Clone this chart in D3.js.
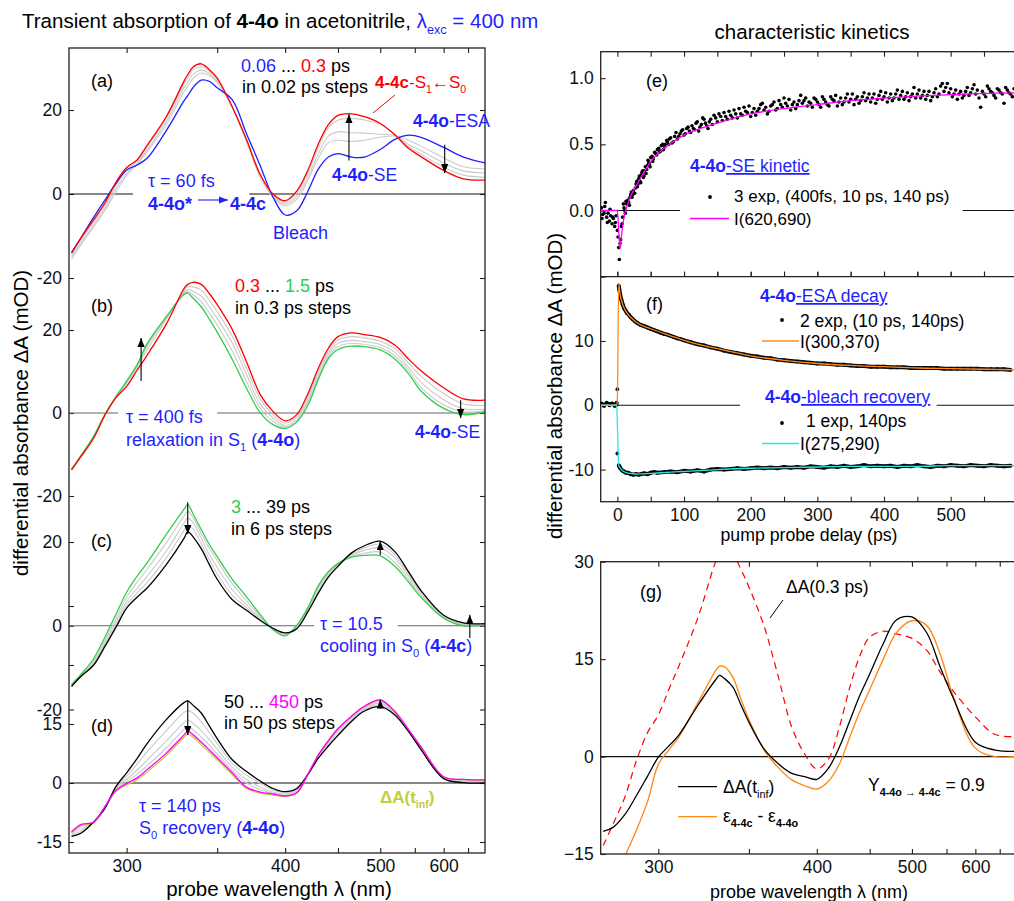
<!DOCTYPE html>
<html><head><meta charset="utf-8">
<script src="https://cdn.jsdelivr.net/npm/d3@7"></script>
<style>
body{margin:0;background:#fff;}
svg{font-family:"Liberation Sans",Arial,Helvetica,sans-serif;}
</style></head><body>
<svg id="c" width="1014" height="901"></svg>
<script>
// ---------------- DATA ----------------
// probe wavelengths (nm) shared by all spectra
const wl = [276, 280, 285, 290, 295, 300, 305, 310, 320, 330, 332, 335, 340, 345, 350, 360, 370, 380, 390, 400, 410, 420, 430, 440, 450, 465, 480, 500, 520, 540, 560, 600, 640, 690];
// (a) 0.06 ... 0.3 ps
const aBlue = [-14, -10.3, -5.7, -1.5, 2.5, 5.7, 6.9, 8.5, 15.1, 22.3, 23.4, 25.3, 27.1, 26.8, 25.3, 22.4, 14.3, 6.8, -0.7, -5, -4, 0.6, 5.9, 8.8, 9.6, 8.8, 8.8, 10.6, 13, 14, 13.5, 11.1, 8.8, 7.4];
const aG3 = [-15.5, -12, -8, -4, 0.5, 4.5, 7, 10, 16.5, 24.5, 25.6, 27.5, 28.8, 28.2, 26.5, 20.8, 12.8, 4.4, -0.8, -2.8, -1.2, 3.2, 8.5, 12.2, 12.8, 12.5, 12.8, 13.5, 13.8, 12.8, 11.4, 8.6, 6.5, 6];
const aG2 = [-15, -11.5, -7.5, -3.5, 1.2, 5, 7.2, 10.5, 17.2, 25.5, 26.6, 28.5, 29.5, 28.7, 26.8, 20.6, 12.4, 4, -0.6, -2.4, -0.5, 4, 9.6, 13.8, 14.8, 14.6, 14.5, 14.2, 13.9, 11.8, 10.3, 7.4, 5.5, 5];
const aG1 = [-14.5, -10.8, -6.8, -2.8, 2, 5.8, 7.8, 11.2, 18, 26.4, 27.6, 29.5, 30.3, 29.2, 27.2, 20.6, 12.5, 4.2, -0.4, -2, 0.2, 5, 11, 15.8, 17.6, 18, 17.6, 16.6, 14.2, 11.3, 9.5, 6.4, 4.5, 4];
const aRed = [-14, -10.3, -6.3, -2.2, 2.8, 6.3, 8.1, 11.6, 18.4, 27, 28.4, 30.2, 31, 29.6, 27.6, 20.7, 12.9, 4.7, 0, -1.6, 0.7, 5.6, 11.9, 16.5, 18.7, 19.1, 18.4, 16.8, 14.1, 10.9, 8.9, 5.6, 3.6, 3.3];
// (b) 0.3 ... 1.5 ps
const bRed = [-13.7, -10.4, -6.2, -0.6, 3.7, 6.4, 10.3, 13.9, 21.4, 30.1, 31, 31.5, 31, 28.8, 26.1, 20.1, 12.3, 4.5, 0.4, -1.9, -0.4, 4.6, 10.8, 15.6, 18.4, 19.3, 18.9, 18.2, 16.4, 13, 10.2, 6.1, 3.4, 3.1];
const bG1 = [-13.7, -10.3, -5.9, -0.5, 3.8, 7.1, 10.9, 15.2, 22.5, 29.6, 30.4, 30.4, 29.6, 27.2, 24.4, 18.5, 10.7, 3.4, -0.4, -2.4, -1, 3.8, 10.1, 14.9, 17.6, 18.4, 18.1, 17.3, 15.5, 12, 8.9, 4.7, 2.2, 1.8];
const bG2 = [-13.6, -10.2, -5.9, -0.5, 3.9, 7.4, 11.3, 16, 22.9, 29.2, 29.8, 29.3, 28.2, 25.6, 22.8, 16.8, 9.2, 2.2, -1.2, -3, -1.6, 3, 9.3, 14.2, 16.8, 17.5, 17.2, 16.5, 14.6, 11, 7.4, 3.2, 1, 0.9];
const bG3 = [-13.6, -10.1, -5.8, -0.4, 3.9, 7.6, 11.5, 16.4, 23.1, 28.9, 29.3, 28.5, 26.9, 24.1, 21.2, 14.9, 7.6, 1.2, -2, -3.4, -2, 2.4, 8.7, 13.6, 16, 16.8, 16.5, 15.8, 13.8, 10.2, 6.2, 2, 0.3, 0.6];
const bGreen = [-13.6, -10.1, -5.8, -0.4, 3.9, 7.7, 11.6, 16.7, 23.2, 28.6, 28.9, 27.7, 25.6, 22.6, 19.5, 12.9, 5.9, 0.1, -2.8, -3.7, -2.2, 1.8, 8.1, 13.1, 15.3, 16.1, 16, 15.2, 13, 9.5, 5.3, 1.1, -0.4, 0.3];
// (c) 3 ... 39 ps
const cGreen = [-14, -11.5, -8, -2.8, 2.7, 8, 11.8, 15, 21.8, 27.9, 29, 26.8, 23, 19.4, 16.5, 11.1, 6.9, 2.7, -0.9, -2.4, 0.1, 4.3, 9.6, 12.9, 14.9, 16.4, 16.8, 16.7, 14.2, 10.5, 6.8, 1.8, 0, 0.2];
const cG1 = [-14.2, -11.7, -8.5, -3.6, 1.7, 6.8, 10.4, 13.5, 19.8, 26.3, 27.3, 25.9, 22, 18.5, 15.6, 10, 6, 2.3, -0.9, -2.2, -0.1, 4.1, 9.2, 12.7, 14.8, 16.6, 17.3, 17.6, 15.1, 11.2, 7.3, 1.9, 0.2, 0.3];
const cG2 = [-14.3, -11.8, -8.9, -4.2, 0.9, 5.8, 8.9, 11.8, 17.8, 24.6, 25.7, 24.7, 20.9, 17, 13.9, 8.6, 5, 1.9, -0.8, -2, -0.3, 3.8, 8.6, 12.2, 14.6, 16.9, 18, 18.6, 16.2, 11.9, 7.7, 2.1, 0.4, 0.4];
const cG3 = [-14.4, -11.9, -9.2, -4.6, 0.2, 5, 7.8, 10.3, 16.2, 22.9, 24.1, 23.2, 19.6, 15.8, 12.4, 7.3, 4.3, 1.6, -0.7, -1.8, -0.5, 3.5, 8.1, 11.9, 14.4, 17.2, 18.6, 19.5, 17, 12.5, 8.1, 2.3, 0.6, 0.5];
const cBlack = [-14.5, -12, -9.5, -5, -0.4, 4.2, 6.8, 9, 14.6, 21, 22.5, 21.3, 18.4, 14.6, 11.1, 6.2, 3.7, 1.3, -0.6, -1.7, -0.7, 3.3, 7.8, 11.6, 14.2, 17.4, 19.1, 20.2, 17.7, 12.9, 8.4, 2.5, 0.7, 0.5];
// (d) 50 ... 450 ps
const dBlack = [-13.6, -12.7, -10, -6.5, -0.9, 2.6, 6.2, 10, 16.1, 20.5, 20.9, 19.8, 17.8, 14.5, 11.3, 5.9, 2.9, 0.5, -1.4, -2.2, -1.4, 2.1, 6.3, 9.4, 12.1, 15.7, 18.3, 19.4, 17.3, 13.1, 8.5, 1.1, 0.1, 0];
const dG1 = [-13.3, -12.2, -10, -6.3, -1.1, 1.7, 4.8, 7.9, 13.3, 18, 18.4, 17.8, 15.6, 12.8, 10, 5, 2, -0.1, -1.8, -2.5, -1.7, 2.1, 6.5, 9.9, 12.5, 16, 18.7, 19.8, 17.6, 13.2, 8.6, 1.2, 0.3, 0.2];
const dG2 = [-13, -11.6, -10, -6.1, -1.3, 0.9, 3.3, 5.8, 10.7, 15.4, 16, 15.2, 13.3, 11, 8.6, 4, 0.9, -1, -2.3, -2.8, -2, 2.1, 6.8, 10.3, 13.1, 16.4, 19, 20.3, 17.9, 13.4, 8.8, 1.3, 0.5, 0.4];
const dG3 = [-12.7, -11, -10, -6, -1.5, 0.4, 2.2, 4.4, 8.9, 13.7, 14.4, 13.6, 11.7, 9.6, 7.4, 3.2, 0, -1.7, -2.6, -3.1, -2.3, 2.2, 7, 10.6, 13.5, 16.8, 19.2, 20.7, 18.1, 13.5, 9, 1.4, 0.7, 0.6];
const dTinf = [-12.6, -10.8, -10.2, -6.3, -2.1, -0.5, 0.8, 2.8, 7, 11.7, 12.5, 11.7, 9.8, 7.8, 5.9, 2.1, -1.4, -2.6, -3.1, -3.4, -2.6, 2.1, 7.1, 10.9, 13.9, 17, 19.4, 21, 18.3, 13.6, 9.1, 1.5, 0.9, 0.8];
const dMag = [-12.4, -10.5, -10, -6.1, -1.9, -0.1, 1.3, 3.4, 7.6, 12.3, 13.2, 12.3, 10.4, 8.4, 6.4, 2.6, -1.1, -2.3, -2.8, -3.3, -2.5, 2.2, 7.1, 10.7, 13.8, 17, 19.5, 21.1, 18.1, 13.6, 9.2, 1.6, 0.9, 0.8];
// (g)
const gBlack = [-11.5, -10.9, -8.9, -6, -3, -0.1, 1.6, 3.3, 7.9, 11.9, 12.5, 12, 10.7, 7.9, 5.3, 1.2, -1.1, -2.6, -3.1, -3.5, -1.8, 1.5, 5.6, 9.5, 12.7, 17.4, 21, 21.5, 19.1, 13.8, 9.2, 2.2, 1, 0.8];
const gOrange = [-24, -19.5, -15.3, -11.3, -6.9, -1.2, 1, 3, 8.3, 13.3, 13.9, 13.8, 12.2, 8.8, 5.7, 1, -1.7, -3.6, -4.5, -5, -3.8, -1.1, 3.1, 7, 10.3, 15, 19, 20.9, 20.2, 15.8, 9.5, 1.3, 0, 0];
const gDash = bRed; // ΔA(0.3 ps)

// (e) SE kinetic, normalised: [delay ps, value]
const eDots = [[-24,0.02],[-22,-0.03],[-20,-0.02],[-18,0.06],[-16,-0.05],[-14,-0.02],[-12,-0.08],[-10,-0.04],[-8,-0.1],[-6,-0.06],[-4,-0.12],[-2,-0.04],[0,-0.15],[1,-0.2],[2,-0.28],[3,-0.37],[4,-0.25],[5,-0.22],[6,-0.12],[8,-0.05],[10,0.02],[12,-0.02],[14,0.05],[16,0.08],[18,0.04],[20,0.12],[22,0.1],[24,0.15],[26,0.13],[28,0.2],[30,0.18],[32,0.24],[34,0.22],[36,0.27],[38,0.3],[40,0.26],[42,0.33],[44,0.31],[46,0.38],[48,0.35],[50,0.4],[53,0.37],[56,0.44],[59,0.42],[62,0.47],[65,0.45],[68,0.5],[71,0.48],[74,0.53],[77,0.5],[80,0.55],[84,0.52],[88,0.59],[92,0.56],[96,0.6],[100,0.57],[104,0.62],[108,0.6],[112,0.64],[116,0.61],[120,0.67],[124,0.63],[128,0.7],[132,0.66],[136,0.62],[140,0.69],[145,0.72],[150,0.67],[155,0.71],[160,0.74],[165,0.69],[170,0.72],[175,0.76],[180,0.7],[185,0.73],[190,0.78],[195,0.74],[200,0.71],[205,0.77],[210,0.75],[215,0.8],[220,0.76],[225,0.73],[230,0.79],[235,0.82],[240,0.77],[245,0.8],[250,0.85],[255,0.79],[260,0.76],[265,0.82],[270,0.8],[275,0.87],[280,0.83],[285,0.79],[290,0.81],[295,0.85],[300,0.82],[305,0.78],[310,0.84],[315,0.8],[320,0.86],[325,0.83],[330,0.79],[335,0.85],[340,0.82],[345,0.88],[350,0.84],[355,0.8],[360,0.86],[365,0.83],[370,0.89],[375,0.85],[380,0.82],[385,0.88],[390,0.84],[395,0.9],[400,0.86],[405,0.82],[410,0.88],[415,0.85],[420,0.91],[425,0.87],[430,0.84],[435,0.89],[440,0.86],[445,0.93],[450,0.88],[455,0.85],[460,0.9],[465,0.87],[470,0.83],[475,0.89],[480,0.86],[485,0.94],[490,0.9],[495,0.96],[500,0.92],[505,0.88],[510,0.84],[515,0.9],[520,0.87],[525,0.93],[530,0.89],[535,0.95],[540,0.91],[545,0.78],[550,0.88],[555,0.94],[560,0.9],[565,0.87],[570,0.92],[575,0.89],[580,0.81],[585,0.91],[590,0.88],[595,0.92]];
const eDots2 = [[-23,-0.06],[-19,0.03],[-15,-0.09],[-11,0.01],[-7,-0.05],[-3,-0.09],[7,-0.1],[9,0.05],[11,0.0],[13,0.07],[17,0.06],[19,0.1],[21,0.14],[23,0.12],[27,0.17],[29,0.22],[31,0.2],[33,0.26],[35,0.21],[37,0.29],[39,0.25],[41,0.3],[43,0.28],[45,0.34],[47,0.36],[49,0.33],[52,0.41],[54,0.39],[57,0.43],[60,0.46],[63,0.44],[66,0.49],[69,0.46],[72,0.5],[75,0.52],[78,0.54],[82,0.51],[86,0.56],[90,0.54],[94,0.58],[98,0.61],[102,0.58],[106,0.63],[110,0.59],[114,0.62],[118,0.66],[122,0.6],[126,0.65],[130,0.69],[134,0.64],[138,0.67],[142.5,0.65],[147.5,0.7],[152.5,0.73],[157.5,0.68],[162.5,0.71],[167.5,0.75],[172.5,0.7],[177.5,0.73],[182.5,0.77],[187.5,0.72],[192.5,0.75],[197.5,0.79],[202.5,0.74],[207.5,0.72],[212.5,0.77],[217.5,0.81],[222.5,0.78],[227.5,0.75],[232.5,0.8],[237.5,0.76],[242.5,0.83],[247.5,0.78],[252.5,0.81],[257.5,0.84],[262.5,0.8],[267.5,0.77],[272.5,0.83],[277.5,0.81],[282.5,0.85],[287.5,0.82],[292.5,0.78],[297.5,0.84],[302.5,0.8],[307.5,0.86],[312.5,0.82],[317.5,0.79],[322.5,0.84],[327.5,0.87],[332.5,0.82],[337.5,0.8],[342.5,0.85],[347.5,0.82],[352.5,0.88],[357.5,0.84],[362.5,0.81],[367.5,0.86],[372.5,0.83],[377.5,0.88],[382.5,0.85],[387.5,0.81],[392.5,0.87],[397.5,0.84],[402.5,0.89],[407.5,0.85],[412.5,0.83],[417.5,0.88],[422.5,0.84],[427.5,0.9],[432.5,0.86],[437.5,0.83],[442.5,0.88],[447.5,0.85],[452.5,0.91],[457.5,0.87],[462.5,0.84],[467.5,0.9],[472.5,0.86],[477.5,0.92],[482.5,0.88],[487.5,0.96],[492.5,0.93],[497.5,0.89],[502.5,0.86],[507.5,0.91],[512.5,0.88],[517.5,0.85],[522.5,0.9],[527.5,0.87],[532.5,0.92],[537.5,0.88],[542.5,0.85],[547.5,0.9],[552.5,0.86],[557.5,0.92],[562.5,0.89],[567.5,0.85],[572.5,0.91],[577.5,0.88],[582.5,0.93],[587.5,0.89],[592.5,0.86]];
const eFitT = [-25, 0, 2, 4, 6, 10, 15, 20, 30, 40, 50, 70, 100, 150, 200, 250, 300, 350, 400, 450, 500, 550, 610];
const eFitV = [0, 0, -0.15, -0.29, -0.2, -0.05, 0.04, 0.11, 0.2, 0.29, 0.37, 0.47, 0.57, 0.66, 0.73, 0.77, 0.8, 0.83, 0.85, 0.865, 0.875, 0.885, 0.89];
// (f) ESA decay and bleach recovery (mOD)
const fEsaDots = [[-24,0.3],[-20,0.1],[-16,0.4],[-12,0.2],[-8,0.3],[-4,0.1],[-1,0.4],[0,2.5],[2,18.6],[3,18],[4,17.3],[6,16.4],[8,15.7],[10,15.1],[12,14.8],[14,14.4],[17,14.1],[20,13.7],[23,13.4],[26,13.1],[30,12.8],[35,12.5],[40,12.3],[45,12.1],[50,11.9],[55,11.7],[60,11.5],[65,11.3],[70,11.1],[75,11],[80,10.8],[85,10.6],[90,10.4],[95,10.3],[100,10.1],[110,9.8],[120,9.5],[130,9.3],[140,9.0],[150,8.8],[160,8.5],[170,8.3],[180,8.1],[190,7.9],[200,7.7],[210,7.6],[220,7.4],[230,7.3],[240,7.1],[250,7],[260,6.9],[270,6.8],[280,6.7],[290,6.6],[300,6.5],[310,6.5],[320,6.4],[330,6.3],[340,6.3],[350,6.2],[360,6.1],[370,6.1],[380,6.0],[390,6.0],[400,6.0],[410,5.9],[420,5.9],[430,5.9],[440,5.8],[450,5.8],[460,5.8],[470,5.8],[480,5.8],[490,5.7],[500,5.7],[510,5.7],[520,5.7],[530,5.7],[540,5.7],[550,5.6],[560,5.6],[570,5.6],[580,5.6],[590,5.5]];
const fBlDots = [[-24,0.2],[-20,-0.1],[-16,0.3],[-12,0],[-8,0.2],[-4,-0.1],[-1,0.1],[0,-7.5],[2,-9.3],[3,-9.5],[4,-9.7],[6,-10],[8,-10.2],[10,-10.3],[13,-10.5],[16,-10.5],[20,-10.7],[24,-10.8],[28,-10.7],[32,-10.8],[36,-10.7],[40,-10.6],[45,-10.7],[50,-10.5],[55,-10.4],[60,-10.5],[70,-10.4],[80,-10.3],[90,-10.4],[100,-10.2],[110,-10.3],[120,-10.1],[130,-10.3],[140,-10],[150,-9.9],[160,-10],[170,-9.9],[180,-9.8],[190,-9.9],[200,-9.8],[210,-9.7],[220,-9.8],[230,-9.7],[240,-9.8],[250,-9.6],[260,-9.7],[270,-9.6],[280,-9.7],[290,-9.5],[300,-9.6],[310,-9.7],[320,-9.5],[330,-9.6],[340,-9.4],[350,-9.6],[360,-9.5],[370,-9.3],[380,-9.5],[390,-9.4],[400,-9.5],[410,-9.4],[420,-9.6],[430,-9.4],[440,-9.5],[450,-9.3],[460,-9.5],[470,-9.6],[480,-9.4],[490,-9.5],[500,-9.3],[510,-9.4],[520,-9.5],[530,-9.3],[540,-9.4],[550,-9.5],[560,-9.3],[570,-9.4],[580,-9.5],[590,-9.4]];
const fFitT = [-25, -1, 0, 2, 4, 8, 14, 20, 30, 50, 80, 100, 150, 200, 250, 300, 350, 400, 450, 500, 550, 610];
const fFitEsa = [0, 0, 1, 19, 17.3, 15.7, 14.4, 13.7, 12.8, 11.9, 10.8, 10.1, 8.8, 7.7, 7.0, 6.5, 6.2, 6.0, 5.8, 5.7, 5.6, 5.5];
const fFitBl = [0, 0, -3, -9.3, -9.7, -10.2, -10.5, -10.6, -10.7, -10.6, -10.4, -10.3, -10.0, -9.8, -9.7, -9.6, -9.5, -9.5, -9.5, -9.4, -9.4, -9.4];

// tick values
const wlTicks = [300, 350, 400, 450, 500, 550, 600, 650];
const wlLabels = [300, 400, 500, 600];
const tTicks = [0, 50, 100, 150, 200, 250, 300, 350, 400, 450, 500, 550];
const tLabels = [0, 100, 200, 300, 400, 500];

// ---------------- DRAWING ----------------
const svg = d3.select("#c");
const BLUE = "#1f1fff", RED = "#ff0000", GREEN = "#33cc4f", GRAY = "#cbcbcb", MAG = "#ff00ff",
      TINF = "#c3cd3c", ORANGE = "#ff8a1a", CYAN = "#22e8e8", AX = "#222";
const FS = 18, FT = 17.5, FTT = 20.5;

const defs = svg.append("defs");
function marker(id, col) {
  defs.append("marker").attr("id", id).attr("viewBox", "0 0 10 8").attr("refX", 10).attr("refY", 4)
    .attr("markerWidth", 9).attr("markerHeight", 7.2).attr("markerUnits", "userSpaceOnUse").attr("orient", "auto")
    .append("path").attr("d", "M0,0L10,4L0,8Z").attr("fill", col);
}
marker("arK", "#000"); marker("arB", BLUE);
function clip(id, x, y, w, h) {
  defs.append("clipPath").attr("id", id).append("rect").attr("x", x).attr("y", y).attr("width", w).attr("height", h);
}

function rt(x, y, parts, o = {}) {
  const fs = o.size || FS;
  const t = svg.append("text").attr("x", x).attr("y", y).attr("font-size", fs).attr("fill", o.color || "#000");
  if (o.anchor) t.attr("text-anchor", o.anchor);
  if (o.rotate) t.attr("transform", `rotate(${o.rotate},${x},${y})`);
  let shift = 0;
  parts.forEach(p => {
    if (typeof p === "string") p = { t: p };
    const s = t.append("tspan").text(p.t);
    const target = p.sub ? fs * 0.3 : 0;
    if (target !== shift) { s.attr("dy", target - shift); shift = target; }
    if (p.c) s.attr("fill", p.c);
    if (p.b) s.attr("font-weight", "bold");
    if (p.sub) s.attr("font-size", fs * 0.62);
    if (p.u) s.attr("text-decoration", "underline");
  });
  return t;
}
function styleAxis(g) {
  g.select(".domain").remove();
  g.selectAll("line").attr("stroke", AX).attr("stroke-width", 1.1);
  g.selectAll("text").attr("font-size", FT).attr("fill", "#111")
    .attr("font-family", '"Liberation Sans",Arial,sans-serif');
}

// ===== left column =====
const L = { x0: 69, x1: 485, y0: 48, y1: 853 };
const xW = d3.scalePow().exponent(-1).domain([275, 690]).range([L.x0, L.x1]);
const yA = d3.scaleLinear().domain([-20, 20]).range([278, 110]);
const yB = d3.scaleLinear().domain([-20, 20]).range([496, 330]);
const yC = d3.scaleLinear().domain([-20, 20]).range([709.5, 542]);
const yD = d3.scaleLinear().domain([-15, 15]).range([842, 724]);
clip("clipL", L.x0, L.y0, L.x1 - L.x0, L.y1 - L.y0);

const panels = [
  { y: yA, ticks: [-20, 0, 20], labels: [-20, 0, 20], zero: [[275, 303], [372, 690]], zc: "#111",
    series: [[aG3, GRAY], [aG2, GRAY], [aG1, GRAY], [aBlue, BLUE], [aRed, RED]],
    arrows: [[462, 8, 19], [602, 11.7, 5]] },
  { y: yB, ticks: [-20, 0, 20], labels: [-20, 0, 20], zero: [[275, 296], [350, 690]], zc: "#666",
    series: [[bG1, GRAY], [bG2, GRAY], [bG3, GRAY], [bGreen, GREEN], [bRed, RED]],
    arrows: [[307, 7.7, 18.1], [634, 3.1, -1.2]] },
  { y: yC, ticks: [-20, 0, 20], labels: [-20, 0, 20], zero: [[275, 426], [524, 690]], zc: "#666",
    series: [[cG1, GRAY], [cG2, GRAY], [cG3, GRAY], [cGreen, GREEN], [cBlack, "#000"]],
    arrows: [[332, 29.5, 21.9], [500, 16.9, 20.2], [654, -2.9, 2.6]] },
  { y: yD, ticks: [-15, 0, 15, 30, 45], labels: [-15, 0, 15], zero: [[275, 690]], zc: "#111",
    series: [[dG1, GRAY], [dG2, GRAY], [dG3, GRAY], [dTinf, TINF], [dBlack, "#000"], [dMag, MAG]],
    arrows: [[332, 21.1, 12.2], [500, 18.9, 21.2]] }
];

const gL = svg.append("g");
panels.forEach(p => {
  const la = gL.append("g").attr("transform", `translate(${L.x0},0)`)
    .call(d3.axisLeft(p.y).tickValues(p.ticks).tickSize(-5).tickPadding(7)
      .tickFormat(d => p.labels.includes(d) ? d : ""));
  styleAxis(la);
  const ra = gL.append("g").attr("transform", `translate(${L.x1},0)`)
    .call(d3.axisRight(p.y).tickValues(p.ticks).tickSize(-5).tickFormat(""));
  styleAxis(ra);
  p.zero.forEach(z => gL.append("line").attr("x1", xW(z[0])).attr("x2", xW(z[1]))
    .attr("y1", p.y(0)).attr("y2", p.y(0)).attr("stroke", p.zc).attr("stroke-width", 1.2));
  const line = d3.line().x((d, i) => xW(wl[i])).y(d => p.y(d)).curve(d3.curveCatmullRom.alpha(0.5));
  const cg = gL.append("g").attr("clip-path", "url(#clipL)");
  p.series.forEach(s => cg.append("path").attr("d", line(s[0])).attr("fill", "none")
    .attr("stroke", s[1]).attr("stroke-width", s[1] === GRAY ? 1.1 : 1.3));
  p.arrows.forEach(a => gL.append("line").attr("x1", xW(a[0])).attr("x2", xW(a[0]))
    .attr("y1", p.y(a[1])).attr("y2", p.y(a[2])).attr("stroke", "#000").attr("stroke-width", 1.1)
    .attr("marker-end", "url(#arK)"));
});
const bx = gL.append("g").attr("transform", `translate(0,${L.y1})`)
  .call(d3.axisBottom(xW).tickValues(wlTicks).tickSize(-5).tickPadding(7)
    .tickFormat(d => wlLabels.includes(d) ? d : ""));
styleAxis(bx);
const tx = gL.append("g").attr("transform", `translate(0,${L.y0})`)
  .call(d3.axisTop(xW).tickValues(wlTicks).tickSize(-5).tickFormat(""));
styleAxis(tx);
gL.append("rect").attr("x", L.x0).attr("y", L.y0).attr("width", L.x1 - L.x0).attr("height", L.y1 - L.y0)
  .attr("fill", "none").attr("stroke", AX).attr("stroke-width", 1.3);

// titles left
rt(22, 28, ["Transient absorption of ", { t: "4-4o", b: 1 }, " in acetonitrile, ",
  { t: "λ", c: BLUE }, { t: "exc", c: BLUE, sub: 1 }, { t: " = 400 nm", c: BLUE }], { size: FTT });
rt(28, 423, ["differential absorbance ΔA (mOD)"], { size: FTT, anchor: "middle", rotate: -90 });
rt(279, 896, ["probe wavelength λ (nm)"], { size: FTT, anchor: "middle" });

// panel (a) annotations
rt(91, 87, ["(a)"]);
rt(241, 72, [{ t: "0.06", c: BLUE }, " ... ", { t: "0.3", c: RED }, " ps"]);
rt(242, 93, ["in 0.02 ps steps"]);
rt(375, 88, [{ t: "4-4c", b: 1 }, "-S", { t: "1", sub: 1 }, "←S", { t: "0", sub: 1 }], { color: RED, size: 17 });
svg.append("line").attr("x1", 395).attr("y1", 95).attr("x2", 373).attr("y2", 113).attr("stroke", RED).attr("stroke-width", 1);
rt(413, 127, [{ t: "4-4o", b: 1 }, "-ESA"], { color: BLUE, size: 17.5 });
rt(332, 181, [{ t: "4-4o", b: 1 }, "-SE"], { color: BLUE, size: 17.5 });
rt(148, 187, ["τ = 60 fs"], { color: BLUE });
rt(148, 210, [{ t: "4-4o*", b: 1 }], { color: BLUE });
svg.append("line").attr("x1", 198).attr("x2", 228).attr("y1", 200).attr("y2", 200).attr("stroke", BLUE)
  .attr("stroke-width", 1.1).attr("marker-end", "url(#arB)");
rt(230, 210, [{ t: "4-4c", b: 1 }], { color: BLUE });
rt(273, 239, ["Bleach"], { color: BLUE });
// (b)
rt(91, 312, ["(b)"]);
rt(235, 292, [{ t: "0.3", c: RED }, " ... ", { t: "1.5", c: GREEN }, " ps"]);
rt(235, 314, ["in 0.3 ps steps"]);
rt(126, 423, ["τ = 400 fs"], { color: BLUE });
rt(126, 446, ["relaxation in S", { t: "1", sub: 1 }, " (", { t: "4-4o", b: 1 }, ")"], { color: BLUE });
rt(415, 438, [{ t: "4-4o", b: 1 }, "-SE"], { color: BLUE, size: 17.5 });
// (c)
rt(91, 547, ["(c)"]);
rt(231, 513, [{ t: "3", c: GREEN }, " ... 39 ps"]);
rt(231, 535, ["in 6 ps steps"]);
rt(320, 630, ["τ = 10.5"], { color: BLUE });
rt(320, 652, ["cooling in S", { t: "0", sub: 1 }, " (", { t: "4-4c", b: 1 }, ")"], { color: BLUE });
// (d)
rt(91, 732, ["(d)"]);
rt(224, 708, ["50 ... ", { t: "450", c: MAG }, " ps"]);
rt(224, 729, ["in 50 ps steps"]);
rt(139, 812, ["τ = 140 ps"], { color: BLUE });
rt(139, 834, ["S", { t: "0", sub: 1 }, " recovery (", { t: "4-4o", b: 1 }, ")"], { color: BLUE });
rt(380, 803, [{ t: "ΔA(t", b: 1 }, { t: "inf", sub: 1, b: 1 }, { t: ")", b: 1 }], { color: TINF, size: 17 });

// ===== right column: (e) and (f) =====
const R = { x0: 600.7, x1: 1024, yE0: 51.7, yE1: 276.7, yF1: 501.7 };
const xT = d3.scaleLinear().domain([-25, 610]).range([R.x0, R.x1]);
const yE = d3.scaleLinear().domain([-0.5, 1.2]).range([R.yE1, R.yE0]);
const yF = d3.scaleLinear().domain([-15, 20]).range([R.yF1, R.yE1]);
clip("clipE", R.x0, R.yE0, R.x1 - R.x0, R.yE1 - R.yE0);
clip("clipF", R.x0, R.yE1, R.x1 - R.x0, R.yF1 - R.yE1);
const gR = svg.append("g");

rt(812, 39, ["characteristic kinetics"], { size: FTT, anchor: "middle" });
[[yE, [-0.5, 0, 0.5, 1.0], d3.format(".1f"), [0, 0.5, 1.0]], [yF, [-10, 0, 10], d => d, [-10, 0, 10]]].forEach(a => {
  const g = gR.append("g").attr("transform", `translate(${R.x0},0)`)
    .call(d3.axisLeft(a[0]).tickValues(a[1]).tickSize(-5).tickPadding(7)
      .tickFormat(d => a[3].includes(d) ? a[2](d) : ""));
  styleAxis(g);
});
[R.yE0, R.yE1].forEach((yy, i) => {
  const g = gR.append("g").attr("transform", `translate(0,${yy})`)
    .call(d3.axisTop(xT).tickValues(tTicks).tickSize(i === 0 ? -5 : 5).tickFormat(""));
  styleAxis(g);
});
{
  const g = gR.append("g").attr("transform", `translate(0,${R.yE1})`)
    .call(d3.axisBottom(xT).tickValues(tTicks).tickSize(-5).tickFormat(""));
  styleAxis(g);
  const g2 = gR.append("g").attr("transform", `translate(0,${R.yF1})`)
    .call(d3.axisBottom(xT).tickValues(tTicks).tickSize(-5).tickPadding(7)
      .tickFormat(d => tLabels.includes(d) ? d : ""));
  styleAxis(g2);
}
gR.append("rect").attr("x", R.x0).attr("y", R.yE0).attr("width", R.x1 - R.x0).attr("height", R.yF1 - R.yE0)
  .attr("fill", "none").attr("stroke", AX).attr("stroke-width", 1.3);
gR.append("line").attr("x1", R.x0).attr("x2", R.x1).attr("y1", R.yE1).attr("y2", R.yE1).attr("stroke", AX).attr("stroke-width", 1.3);

[[-25, 94], [518, 610]].forEach(z => gR.append("line").attr("x1", xT(z[0])).attr("x2", xT(z[1]))
  .attr("y1", yE(0)).attr("y2", yE(0)).attr("stroke", "#111").attr("stroke-width", 1.2));
[[-25, 184], [479, 610]].forEach(z => gR.append("line").attr("x1", xT(z[0])).attr("x2", xT(z[1]))
  .attr("y1", yF(0)).attr("y2", yF(0)).attr("stroke", "#111").attr("stroke-width", 1.2));

// (e) data
const gE = gR.append("g").attr("clip-path", "url(#clipE)");
gE.selectAll("circle").data(eDots.concat(eDots2)).join("circle").attr("cx", d => xT(d[0])).attr("cy", d => yE(d[1]))
  .attr("r", 1.8).attr("fill", "#000");
gE.append("path").attr("d", d3.line().x((d, i) => xT(eFitT[i])).y(d => yE(d)).curve(d3.curveMonotoneX)(eFitV))
  .attr("fill", "none").attr("stroke", MAG).attr("stroke-width", 1.3);
// (f) data
const gF = gR.append("g").attr("clip-path", "url(#clipF)");
const dotLine = d3.line().x(d => xT(d[0])).y(d => yF(d[1]));
[fEsaDots, fBlDots].forEach(ds => {
  gF.append("path").attr("d", dotLine(ds.filter(d => d[0] > 1))).attr("fill", "none")
    .attr("stroke", "#111").attr("stroke-width", 4);
  gF.append("path").attr("d", dotLine(ds.filter(d => d[0] < 0))).attr("fill", "none")
    .attr("stroke", "#111").attr("stroke-width", 3);
  gF.append("g").selectAll("circle").data(ds).join("circle").attr("cx", d => xT(d[0])).attr("cy", d => yF(d[1]))
    .attr("r", 1.9).attr("fill", "#000");
});
const fitLine = d3.line().x((d, i) => xT(fFitT[i])).y(d => yF(d)).curve(d3.curveMonotoneX);
gF.append("path").attr("d", fitLine(fFitEsa)).attr("fill", "none").attr("stroke", ORANGE).attr("stroke-width", 1.3);
gF.append("path").attr("d", fitLine(fFitBl)).attr("fill", "none").attr("stroke", CYAN).attr("stroke-width", 1.3);

rt(562, 386, ["differential absorbance ΔA (mOD)"], { size: FTT, anchor: "middle", rotate: -90 });
rt(809, 541, ["pump probe delay (ps)"], { size: 17.7, anchor: "middle" });

// (e) legend & labels
rt(646, 87, ["(e)"]);
rt(690, 172, [{ t: "4-4o", b: 1 }, { t: "-SE kinetic", u: 1 }], { color: BLUE, size: 17.5 });
svg.append("circle").attr("cx", 710).attr("cy", 197).attr("r", 1.9).attr("fill", "#000");
rt(734, 202, ["3 exp, (400fs, 10 ps, 140 ps)"], { size: 17 });
svg.append("line").attr("x1", 690).attr("x2", 729).attr("y1", 218.5).attr("y2", 218.5).attr("stroke", MAG).attr("stroke-width", 1.3);
rt(734, 225, ["I(620,690)"], { size: 17 });
// (f)
rt(646, 310, ["(f)"]);
rt(760, 302, [{ t: "4-4o", b: 1 }, { t: "-ESA decay", u: 1 }], { color: BLUE, size: 17.5 });
svg.append("circle").attr("cx", 782).attr("cy", 320).attr("r", 1.9).attr("fill", "#000");
rt(800, 327, ["2 exp, (10 ps, 140ps)"], { size: 17.5 });
svg.append("line").attr("x1", 762).attr("x2", 799).attr("y1", 341).attr("y2", 341).attr("stroke", ORANGE).attr("stroke-width", 1.3);
rt(800, 348, ["I(300,370)"], { size: 17.5 });
rt(765, 403, [{ t: "4-4o", b: 1 }, { t: "-bleach recovery", u: 1 }], { color: BLUE, size: 17.5 });
svg.append("circle").attr("cx", 782).attr("cy", 423).attr("r", 1.9).attr("fill", "#000");
rt(806, 427, ["1 exp, 140ps"], { size: 17.5 });
svg.append("line").attr("x1", 762).attr("x2", 799).attr("y1", 443.5).attr("y2", 443.5).attr("stroke", CYAN).attr("stroke-width", 1.3);
rt(800, 450, ["I(275,290)"], { size: 17.5 });

// ===== (g) =====
const G = { x0: 600.7, x1: 1016.7, y0: 561.7, y1: 854 };
const xG = d3.scalePow().exponent(-1).domain([275, 690]).range([G.x0, G.x1]);
const yG = d3.scaleLinear().domain([-15, 30]).range([G.y1, G.y0]);
clip("clipG", G.x0, G.y0, G.x1 - G.x0, G.y1 - G.y0);
const gG = svg.append("g");
{
  const a1 = gG.append("g").attr("transform", `translate(${G.x0},0)`)
    .call(d3.axisLeft(yG).tickValues([-15, 0, 15, 30]).tickSize(-5).tickPadding(7));
  styleAxis(a1);
  const a2 = gG.append("g").attr("transform", `translate(0,${G.y1})`)
    .call(d3.axisBottom(xG).tickValues(wlTicks).tickSize(-5).tickPadding(7)
      .tickFormat(d => wlLabels.includes(d) ? d : ""));
  styleAxis(a2);
  const a3 = gG.append("g").attr("transform", `translate(0,${G.y0})`)
    .call(d3.axisTop(xG).tickValues(wlTicks).tickSize(-5).tickFormat(""));
  styleAxis(a3);
}
gG.append("line").attr("x1", G.x0).attr("x2", G.x1).attr("y1", yG(0)).attr("y2", yG(0)).attr("stroke", "#111").attr("stroke-width", 1.3);
const gLine = d3.line().x((d, i) => xG(wl[i])).y(d => yG(d)).curve(d3.curveCatmullRom.alpha(0.5));
const gc = gG.append("g").attr("clip-path", "url(#clipG)");
gc.append("path").attr("d", gLine(gDash)).attr("fill", "none").attr("stroke", RED).attr("stroke-width", 1.2).attr("stroke-dasharray", "7,5");
gc.append("path").attr("d", gLine(gOrange)).attr("fill", "none").attr("stroke", ORANGE).attr("stroke-width", 1.4);
gc.append("path").attr("d", gLine(gBlack)).attr("fill", "none").attr("stroke", "#000").attr("stroke-width", 1.3);
gG.append("rect").attr("x", G.x0).attr("y", G.y0).attr("width", G.x1 - G.x0).attr("height", G.y1 - G.y0)
  .attr("fill", "none").attr("stroke", AX).attr("stroke-width", 1.3);
rt(640, 598, ["(g)"]);
rt(786, 593, ["ΔA(0.3 ps)"], { size: 17.5 });
svg.append("line").attr("x1", 783).attr("y1", 600).attr("x2", 770).attr("y2", 618).attr("stroke", "#000").attr("stroke-width", 1);
svg.append("line").attr("x1", 678).attr("x2", 717).attr("y1", 786.7).attr("y2", 786.7).attr("stroke", "#000").attr("stroke-width", 1.3);
rt(723, 793, ["ΔA(t", { t: "inf", sub: 1 }, ")"], { size: 17.5 });
svg.append("line").attr("x1", 678).attr("x2", 717).attr("y1", 816.7).attr("y2", 816.7).attr("stroke", ORANGE).attr("stroke-width", 1.3);
rt(723, 822, ["ε", { t: "4-4c", sub: 1, b: 1 }, " - ε", { t: "4-4o", sub: 1, b: 1 }], { size: 17.5 });
rt(868, 791, ["Y", { t: "4-4o → 4-4c", sub: 1, b: 1 }, " = 0.9"], { size: 17.5 });
rt(809, 898, ["probe wavelength λ (nm)"], { size: 18, anchor: "middle" });
</script>
</body></html>
